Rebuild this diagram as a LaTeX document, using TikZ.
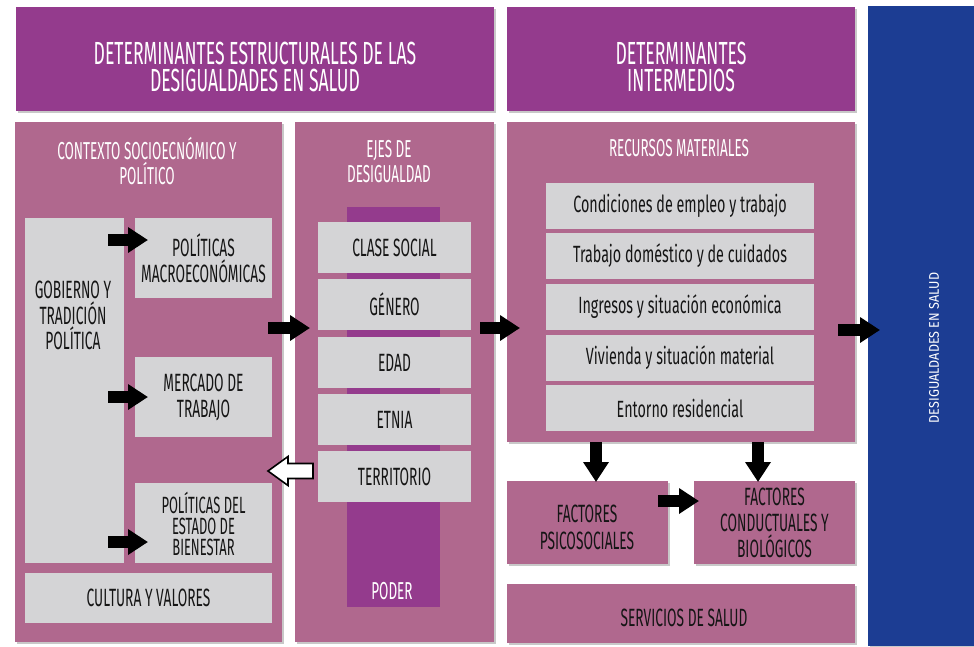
\documentclass[tikz,border=0pt]{standalone}
\usepackage{fontspec}
\newfontfamily\capf[FakeStretch=0.55]{Fira Sans}
\newfontfamily\lowf[FakeStretch=0.61]{Fira Sans}
\newfontfamily\vertf[FakeStretch=0.9]{Fira Sans}
\usetikzlibrary{arrows.meta,calc,shadows}
\definecolor{titpurple}{HTML}{943B8D}
\definecolor{panelpink}{HTML}{B0688E}
\definecolor{boxgrey}{HTML}{D4D4D6}
\definecolor{healthblue}{HTML}{1C3D93}
\definecolor{inktext}{HTML}{151515}
\tikzset{
  shad/.style={drop shadow={shadow xshift=1.5pt, shadow yshift=-1.5pt, opacity=0.3, fill=black!70}},
  boxbase/.style={anchor=north west, inner sep=0pt, outer sep=0pt, draw=none, align=center},
  titlebox/.style={boxbase, fill=titpurple, shad},
  panel/.style={boxbase, fill=panelpink, shad},
  greybox/.style={boxbase, fill=boxgrey, text=inktext, font=\capf\fontsize{25}{26}\selectfont},
  lowbox/.style={boxbase, fill=boxgrey, text=inktext, font=\lowf\fontsize{23.5}{26}\selectfont},
  factbox/.style={boxbase, fill=panelpink, shad, text=inktext, font=\capf\fontsize{25}{26}\selectfont},
  titleline/.style={anchor=base, inner sep=0pt, text=white, font=\capf\fontsize{32}{27}\selectfont},
  headtxt/.style={align=center, inner sep=0pt, text=white, font=\capf\fontsize{24.5}{25}\selectfont},
  estline/.style={anchor=base, inner sep=0pt, text=inktext, font=\capf\fontsize{23.5}{21}\selectfont},
  blk/.style={line width=12.5pt, black, -{Triangle[length=20pt,width=24.5pt]}},
  hollow/.style={draw=black, line width=1.6pt, fill=white, line join=miter},
}
\begin{document}
\begin{tikzpicture}[x=1pt,y=-1pt]
\useasboundingbox (0,0) rectangle (974,646);
\fill[white] (0,0) rectangle (974,646);

% top title boxes
\node[titlebox, minimum width=478, minimum height=104] (t1) at (16,7) {};
\node[titleline] (t1a) at (255,64) {DETERMINANTES ESTRUCTURALES DE LAS};
\node[titleline] (t1b) at (255,91) {DESIGUALDADES EN SALUD};
\node[titlebox, minimum width=348, minimum height=104] (t2) at (507,7) {};
\node[titleline] (t2a) at (681,64) {DETERMINANTES};
\node[titleline] (t2b) at (681,91) {INTERMEDIOS};

% blue outcome box
\node[boxbase, fill=healthblue, shad, minimum width=106, minimum height=640] (blue) at (868,6) {};
\node[rotate=90, inner sep=0pt, text=white, font=\vertf\fontsize{14}{16}\selectfont] (bluetxt) at (934,348) {DESIGUALDADES EN SALUD};

% panels
\node[panel, minimum width=267, minimum height=520] (ctx) at (15,122) {};
\node[headtxt] (ctxtxt) at (147,160.5) {CONTEXTO SOCIOECNÓMICO Y\\POLÍTICO};
\node[panel, minimum width=199, minimum height=520] (ejes) at (295,122) {};
\node[headtxt] (ejestxt) at (389,162) {EJES DE\\DESIGUALDAD};
\node[panel, minimum width=348, minimum height=320] (rec) at (507,122) {};
\node[headtxt] (rectxt) at (679,148) {RECURSOS MATERIALES};

% contexto inner boxes
\node[greybox, minimum width=99, minimum height=345] (gob) at (25,218) {};
\node[align=center, inner sep=0pt, text=inktext, font=\capf\fontsize{25}{25.5}\selectfont] (gobtxt) at (73,315.5) {GOBIERNO Y\\TRADICIÓN\\POLÍTICA};
\node[greybox, minimum width=137, minimum height=80] (mac) at (135,218) {POLÍTICAS\\MACROECONÓMICAS};
\node[greybox, minimum width=137, minimum height=80] (mer) at (135,357) {MERCADO DE\\TRABAJO};
\node[greybox, minimum width=137, minimum height=80] (est) at (135,483) {};
\node[estline] (esta) at (203.5,513) {POLÍTICAS DEL};
\node[estline] (estb) at (203.5,534) {ESTADO DE};
\node[estline] (estc) at (203.5,555) {BIENESTAR};
\node[greybox, minimum width=247, minimum height=50] (cul) at (25,573) {CULTURA Y VALORES};

% ejes
\node[boxbase, fill=titpurple, minimum width=93, minimum height=400] (bar) at (347,207) {};
\node[inner sep=0pt, text=white, font=\capf\fontsize{24.5}{25}\selectfont] (poder) at (392,591) {PODER};
\node[greybox, minimum width=153, minimum height=51] (cs) at (318,222) {CLASE SOCIAL};
\node[greybox, minimum width=153, minimum height=51] (gen) at (318,279) {GÉNERO};
\node[greybox, minimum width=153, minimum height=51] (eda) at (318,337) {EDAD};
\node[greybox, minimum width=153, minimum height=51] (etn) at (318,394) {ETNIA};
\node[greybox, minimum width=153, minimum height=51] (ter) at (318,451) {TERRITORIO};

% recursos
\node[lowbox, minimum width=268, minimum height=46] (r1) at (546,183) {Condiciones de empleo y trabajo};
\node[lowbox, minimum width=268, minimum height=46] (r2) at (546,233) {Trabajo doméstico y de cuidados};
\node[lowbox, minimum width=268, minimum height=46] (r3) at (546,284) {Ingresos y situación económica};
\node[lowbox, minimum width=268, minimum height=46] (r4) at (546,335) {Vivienda y situación material};
\node[lowbox, minimum width=268, minimum height=46] (r5) at (546,385) {Entorno residencial};

% factores
\node[factbox, minimum width=161, minimum height=83] (psi) at (507,481) {};
\node[align=center, inner sep=0pt, text=inktext, font=\capf\fontsize{25}{27}\selectfont] (psitxt) at (587,527) {FACTORES\\PSICOSOCIALES};
\node[factbox, minimum width=161, minimum height=83] (con) at (694,481) {FACTORES\\CONDUCTUALES Y\\BIOLÓGICOS};
\node[factbox, minimum width=348, minimum height=59] (ser) at (507,584) {};
\node[inner sep=0pt, text=inktext, font=\capf\fontsize{25}{26}\selectfont] (sertxt) at (684,618) {SERVICIOS DE SALUD};

% arrows
\draw[blk] ($(gob.east |- mac.west)+(-16,-18)$) -- ($(mac.west)+(13,-18)$);
\draw[blk] ($(gob.east |- mer.west)+(-16,0)$) -- ($(mer.west)+(13,0)$);
\draw[blk] ($(gob.east |- est.west)+(-16,19)$) -- ($(est.west)+(13,19)$);
\draw[blk] ($(ctx.east)+(-14,-54)$) -- ($(ejes.west |- ctx.east)+(15,-54)$);
\draw[blk] ($(ejes.east)+(-14,-54)$) -- ($(rec.west |- ejes.east)+(13,-54)$);
\draw[blk] ($(rec.east)+(-17,48)$) -- ($(blue.west |- rec.east)+(12,48)$);
\draw[blk] ($(rec.south -| psi.north)+(8.5,0)$) -- ($(psi.north)+(8.5,1)$);
\draw[blk] ($(rec.south -| con.north)+(-16.5,0)$) -- ($(con.north)+(-16.5,1)$);
\draw[blk] ($(psi.east)+(-10,-21.5)$) -- ($(con.west)+(5,-21.5)$);

% hollow arrow from territorio back to contexto
\draw[hollow] ($(ter.west)+(-5,-5.5)$) coordinate (wa) -- ++(0,-7.5) -- ++(-25,0) -- ++(0,-7)
  -- ($(ctx.east |- wa)+(-14,0)$) -- ($(wa)+(-25,14.5)$) -- ++(0,-7) -- ++(25,0) -- cycle;
\end{tikzpicture}
\end{document}
